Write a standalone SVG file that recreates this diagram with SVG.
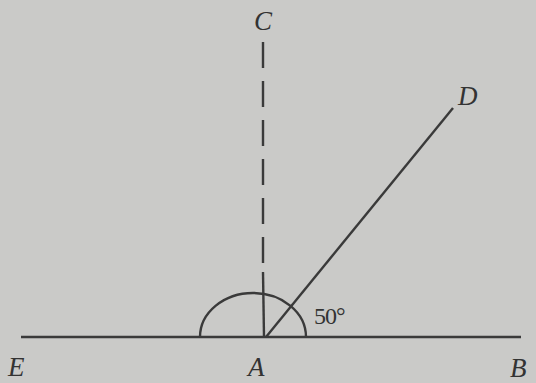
<svg xmlns="http://www.w3.org/2000/svg" width="536" height="383" viewBox="0 0 536 383">
<style>
.ln{stroke:#3a3a3a;stroke-width:2.4;fill:none;stroke-linecap:butt}
.dash{stroke-dasharray:26 13}
.lbl{font-family:"Liberation Serif","DejaVu Serif",serif;font-style:italic;font-size:27px;fill:#333}
.ang{font-family:"Liberation Serif","DejaVu Serif",serif;font-size:24px;fill:#333;letter-spacing:-1px}
</style>
<rect width="536" height="383" fill="#cacac8"/>
<g id="connectors">
<line id="EB" class="ln" x1="21" y1="337" x2="521" y2="337"/>
<line id="AC" class="ln dash" x1="263" y1="42" x2="263" y2="263"/>
<line id="AC-lower" class="ln" x1="263" y1="272" x2="264" y2="337"/>
<line id="AD" class="ln" x1="266" y1="337" x2="453" y2="108"/>
<path id="arc" class="ln" d="M200,337 A53,44 0 0 1 306,337"/>
</g>
<g id="C"><text class="lbl" x="254" y="30">C</text></g>
<g id="D"><text class="lbl" x="458" y="105">D</text></g>
<g id="E"><text class="lbl" x="8" y="376">E</text></g>
<g id="A"><text class="lbl" x="248" y="376">A</text></g>
<g id="B"><text class="lbl" x="510" y="377">B</text></g>
<g id="angle"><text class="ang" x="314" y="324">50°</text></g>
</svg>
